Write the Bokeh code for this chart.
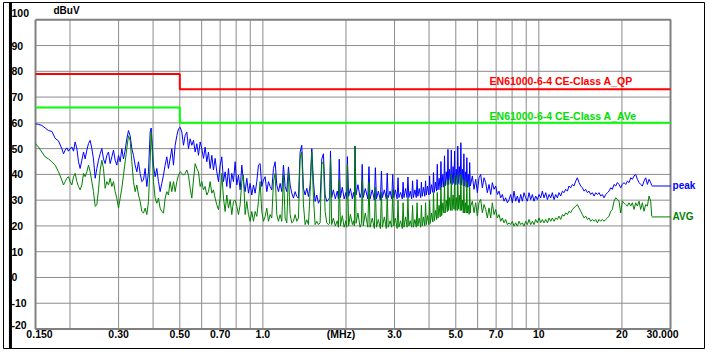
from bokeh.plotting import figure
from bokeh.models import Range1d, Label, Span
from bokeh.embed import file_html
from bokeh.resources import INLINE

# ---------------- data ----------------
# limit lines (MHz, dBuV)
qp_freq = [0.15, 0.5, 0.5, 30.0]
qp_level = [79, 79, 73, 73]
av_freq = [0.15, 0.5, 0.5, 30.0]
av_level = [66, 66, 60, 60]
qp_name = "EN61000-6-4 CE-Class A_QP"
av_name = "EN61000-6-4 CE-Class A_AVe"

# measured traces, band 0.15 - 0.52 MHz
freq_a = [0.150, 0.1538, 0.1581, 0.1626, 0.1672, 0.1719, 0.1767, 0.1817, 0.1868, 0.1895,
          0.1921, 0.1948, 0.1975, 0.2003, 0.2031, 0.2060, 0.2088, 0.2118, 0.2147, 0.2177,
          0.2208, 0.2239, 0.2270, 0.2302, 0.2334, 0.2367, 0.2400, 0.2433, 0.2468, 0.2502,
          0.2537, 0.2573, 0.2609, 0.2645, 0.2682, 0.2720, 0.2758, 0.2796, 0.2836, 0.2875,
          0.2916, 0.2956, 0.2998, 0.3040, 0.3082, 0.3125, 0.3169, 0.3213, 0.3258, 0.3304,
          0.3350, 0.3397, 0.3445, 0.3493, 0.3542, 0.3591, 0.3642, 0.3693, 0.3744, 0.3797,
          0.3850, 0.3904, 0.3936, 0.3969, 0.4013, 0.4070, 0.4127, 0.4184, 0.4243, 0.4302,
          0.4363, 0.4424, 0.4486, 0.4548, 0.4612, 0.4677, 0.4743, 0.4810, 0.4877, 0.4945,
          0.5015, 0.5085, 0.5156]
peak_a = [59.6, 59.4, 59.0, 58.0, 57.0, 56.7, 54.0, 53.0, 50.0, 48.0,
          49.4, 50.3, 49.0, 50.0, 50.6, 49.0, 52.6, 50.0, 44.9, 42.3,
          45.5, 48.7, 46.0, 49.4, 52.0, 53.2, 50.0, 46.0, 38.5, 42.3,
          45.5, 48.0, 50.0, 46.0, 44.2, 47.4, 48.7, 44.2, 46.8, 49.4,
          45.5, 43.6, 47.4, 44.9, 50.0, 46.0, 49.4, 53.8, 57.0, 55.0,
          50.0, 47.4, 43.6, 41.0, 44.9, 40.4, 37.2, 37.8, 42.3, 35.3,
          41.0, 56.4, 58.0, 52.6, 43.6, 39.1, 42.3, 37.2, 33.3, 36.5,
          39.7, 43.6, 46.8, 42.3, 46.0, 50.0, 43.6, 51.3, 55.0, 57.7,
          58.3, 56.4, 51.3]
avg_a = [51.9, 50.6, 48.7, 46.8, 46.0, 44.9, 43.6, 41.0, 37.8, 35.9,
         37.2, 38.5, 39.1, 37.2, 35.9, 39.1, 40.4, 37.2, 35.3, 34.0,
         35.9, 40.4, 39.1, 41.0, 43.6, 41.0, 37.2, 33.3, 27.6, 28.2,
         34.0, 41.7, 45.5, 42.3, 34.6, 37.2, 35.9, 38.5, 35.3, 37.2,
         33.3, 30.8, 26.9, 30.8, 34.6, 39.7, 44.9, 50.0, 55.0, 53.2,
         44.9, 37.2, 33.3, 35.9, 32.0, 29.5, 25.6, 25.0, 26.9, 24.4,
         29.5, 44.9, 56.4, 50.0, 37.2, 30.8, 28.8, 30.8, 26.9, 25.6,
         25.0, 30.8, 33.3, 32.0, 37.2, 33.3, 37.2, 33.3, 37.2, 39.7,
         41.0, 40.4, 39.7]

# band 0.52 - 1.73 MHz
freq_b = [0.5228, 0.5301, 0.5375, 0.5451, 0.5527, 0.5604, 0.5683, 0.5762, 0.5843, 0.5925,
          0.6008, 0.6092, 0.6177, 0.6263, 0.6351, 0.6440, 0.6530, 0.6621, 0.6714, 0.6808,
          0.6903, 0.7000, 0.7098, 0.7197, 0.7298, 0.7400, 0.7504, 0.7609, 0.7715, 0.7823,
          0.7933, 0.8044, 0.8157, 0.8271, 0.8387, 0.8504, 0.8623, 0.8744, 0.8866, 0.8990,
          0.9116, 0.9244, 0.9373, 0.9504, 0.9637, 0.9772, 0.9909, 1.0048, 1.0189, 1.0331,
          1.0476, 1.0623, 1.0771, 1.0922, 1.1075, 1.1230, 1.1387, 1.1547, 1.1708, 1.1872,
          1.2038, 1.2207, 1.2378, 1.2551, 1.2727, 1.2905, 1.3086, 1.3269, 1.3455, 1.3643,
          1.3834, 1.4028, 1.4224, 1.4423, 1.4625, 1.4830, 1.5038, 1.5248, 1.5462, 1.5678,
          1.5898, 1.6120, 1.6346, 1.6575, 1.6807, 1.7042, 1.7281]
peak_b = [55.1, 56.4, 50.0, 53.8, 51.3, 53.2, 48.7, 51.9, 47.4, 52.6,
          50.0, 46.2, 50.6, 44.9, 48.7, 42.3, 47.4, 41.7, 46.2, 41.0,
          37.2, 43.6, 46.8, 37.2, 41.0, 35.3, 42.3, 34.6, 40.4, 37.2,
          44.9, 35.9, 39.7, 34.0, 43.6, 37.2, 33.3, 38.5, 32.7, 36.5,
          32.0, 35.9, 32.7, 37.2, 43.6, 44.2, 35.3, 37.8, 39.1, 33.3,
          37.2, 35.3, 34.0, 42.3, 44.9, 35.9, 33.3, 36.5, 33.3, 43.6,
          35.3, 33.3, 42.9, 35.9, 32.7, 30.8, 33.3, 31.4, 30.8, 48.7,
          51.3, 34.6, 32.0, 34.6, 31.4, 35.9, 50.0, 37.2, 29.5, 32.0,
          28.8, 30.2, 46.0, 48.0, 32.0, 29.5, 30.2]
avg_b = [40.4, 41.7, 39.7, 34.6, 30.8, 37.8, 44.2, 42.3, 41.0, 35.3,
         37.2, 34.0, 35.3, 32.0, 33.3, 37.2, 32.7, 34.0, 30.8, 28.2,
         26.3, 30.8, 40.4, 30.8, 25.6, 32.0, 26.9, 30.2, 24.4, 29.5,
         30.0, 27.6, 24.4, 28.2, 37.2, 39.7, 24.4, 29.5, 24.4, 21.8,
         25.6, 21.8, 25.6, 23.7, 29.5, 37.2, 25.6, 21.8, 23.7, 26.9,
         21.8, 24.4, 23.1, 37.2, 40.4, 24.4, 21.8, 24.4, 21.8, 39.7,
         23.1, 21.2, 41.0, 24.4, 21.2, 21.8, 24.4, 21.8, 23.1, 46.2,
         48.7, 28.2, 20.5, 22.4, 20.5, 33.3, 48.7, 30.8, 20.5, 21.8,
         20.5, 21.2, 44.0, 45.0, 25.6, 21.2, 20.5]

# band 1.74 - 5.65 MHz (harmonic comb)
freq_c = [1.745, 1.758, 1.775, 1.80, 1.83, 1.86, 1.878, 1.891, 1.91, 1.94,
          1.97, 2.00, 2.012, 2.024, 2.045, 2.075, 2.11, 2.13, 2.145, 2.157,
          2.175, 2.21, 2.25, 2.275, 2.29, 2.31, 2.35, 2.40, 2.423, 2.445,
          2.49, 2.535, 2.556, 2.58, 2.62, 2.665, 2.689, 2.71, 2.755, 2.80,
          2.822, 2.845, 2.89, 2.93, 2.955, 2.98, 3.02, 3.065, 3.088, 3.11,
          3.155, 3.20, 3.221, 3.245, 3.29, 3.33, 3.354, 3.38, 3.42, 3.46,
          3.487, 3.51, 3.555, 3.595, 3.62, 3.645, 3.685, 3.73, 3.753, 3.78,
          3.82, 3.86, 3.886, 3.91, 3.95, 3.995, 4.019, 4.045, 4.085, 4.13,
          4.152, 4.18, 4.22, 4.26, 4.285, 4.31, 4.35, 4.39, 4.418, 4.445,
          4.49, 4.525, 4.551, 4.575, 4.62, 4.66, 4.684, 4.71, 4.75, 4.79,
          4.817, 4.845, 4.89, 4.925, 4.95, 4.975, 5.02, 5.06, 5.083, 5.11,
          5.15, 5.19, 5.216, 5.245, 5.285, 5.325, 5.349, 5.375, 5.42, 5.455,
          5.482, 5.51, 5.55, 5.59, 5.615, 5.645]
peak_c = [31.0, 49.1, 31.0, 34.0, 30.5, 33.5, 30.5, 45.9, 31.0, 35.0,
          30.5, 33.0, 30.5, 46.9, 31.5, 34.5, 30.5, 33.0, 31.0, 51.0,
          32.0, 36.0, 31.0, 33.0, 43.9, 31.0, 34.5, 30.5, 43.0, 30.5,
          34.0, 30.0, 42.6, 30.5, 33.5, 30.0, 41.3, 31.0, 34.0, 30.5,
          40.5, 31.0, 33.5, 30.5, 40.0, 31.0, 34.0, 30.5, 38.7, 31.0,
          33.0, 30.5, 37.0, 31.0, 34.5, 31.0, 39.0, 31.0, 33.5, 30.5,
          37.5, 31.0, 34.0, 31.0, 38.0, 31.5, 34.5, 31.0, 37.0, 31.5,
          35.0, 31.5, 37.5, 32.0, 35.5, 32.0, 39.4, 32.5, 36.0, 33.0,
          40.7, 33.0, 37.0, 33.5, 43.9, 34.0, 38.5, 34.0, 45.0, 35.0,
          40.0, 35.0, 47.2, 35.5, 41.0, 36.0, 49.7, 36.0, 42.0, 36.5,
          49.5, 36.0, 43.0, 36.5, 49.1, 36.0, 42.0, 36.0, 51.0, 36.5,
          43.0, 36.0, 52.3, 36.0, 42.0, 35.5, 48.0, 35.5, 41.0, 35.0,
          46.5, 35.0, 40.0, 35.0, 44.6, 35.5]
avg_c = [21.0, 46.5, 20.5, 23.0, 20.0, 22.0, 19.5, 38.0, 20.0, 24.0,
         19.5, 22.0, 19.5, 44.0, 20.0, 24.5, 20.5, 22.0, 20.0, 51.0,
         21.0, 25.0, 19.5, 21.0, 38.0, 20.0, 25.0, 19.5, 37.0, 19.5,
         23.0, 19.0, 35.0, 19.5, 22.5, 19.0, 33.0, 19.5, 23.5, 19.0,
         32.0, 19.5, 22.0, 19.5, 34.0, 20.0, 23.0, 19.0, 30.0, 19.5,
         22.0, 19.0, 29.0, 19.5, 23.5, 19.5, 31.0, 20.0, 22.0, 19.5,
         28.0, 19.5, 22.5, 19.5, 29.0, 20.0, 23.0, 19.5, 28.0, 20.0,
         23.5, 20.0, 29.0, 20.5, 24.0, 20.5, 30.0, 21.0, 25.0, 21.5,
         33.0, 22.0, 26.0, 22.5, 33.0, 23.0, 28.0, 23.5, 35.0, 24.0,
         29.0, 25.0, 37.0, 25.0, 30.0, 25.5, 38.0, 26.0, 31.0, 26.0,
         40.0, 26.0, 32.0, 26.5, 39.0, 26.0, 31.0, 26.0, 40.0, 26.5,
         32.0, 26.0, 40.0, 26.0, 30.0, 25.0, 38.0, 25.0, 29.0, 25.0,
         37.0, 25.0, 28.0, 24.5, 35.0, 25.0]

# band 5.66 - 25.6 MHz
freq_d = [5.662, 5.742, 5.822, 5.904, 5.986, 6.070, 6.155, 6.241, 6.329, 6.417,
          6.507, 6.598, 6.691, 6.784, 6.879, 6.976, 7.073, 7.172, 7.273, 7.375,
          7.478, 7.583, 7.689, 7.797, 7.906, 8.016, 8.129, 8.242, 8.358, 8.475,
          8.594, 8.714, 8.836, 8.960, 9.085, 9.212, 9.341, 9.472, 9.605, 9.739,
          9.876, 10.014, 10.154, 10.296, 10.44, 10.59, 10.74, 10.89, 11.04, 11.19,
          11.35, 11.51, 11.67, 11.83, 12.00, 12.17, 12.34, 12.51, 12.69, 12.86,
          13.04, 13.23, 13.41, 13.60, 13.79, 13.98, 14.18, 14.38, 14.58, 14.78,
          14.99, 15.20, 15.41, 15.63, 15.85, 16.07, 16.29, 16.52, 16.75, 16.99,
          17.22, 17.47, 17.71, 17.96, 18.21, 18.47, 18.72, 18.99, 19.25, 19.52,
          19.80, 20.07, 20.35, 20.64, 20.93, 21.22, 21.52, 21.82, 22.13, 22.44,
          22.75, 23.07, 23.39, 23.72, 24.05, 24.39, 24.73, 25.08, 25.43, 25.64]
peak_d = [36.1, 39.4, 34.2, 38.1, 32.9, 38.7, 40.0, 34.8, 38.7, 36.8,
          32.9, 36.1, 32.2, 36.8, 34.2, 35.5, 32.2, 33.5, 30.9, 32.2,
          29.6, 30.9, 29.0, 30.2, 32.2, 29.0, 33.5, 29.6, 31.6, 29.0,
          32.2, 29.6, 32.9, 30.9, 29.6, 32.9, 30.2, 32.2, 29.6, 31.6,
          30.2, 32.2, 30.9, 33.5, 30.9, 32.9, 30.2, 32.2, 30.9, 32.9,
          30.2, 32.2, 30.9, 32.9, 31.6, 33.5, 32.9, 34.2, 33.5, 35.5,
          34.8, 36.1, 35.5, 37.4, 38.7, 36.8, 35.5, 34.8, 33.5, 34.2,
          32.9, 33.5, 32.2, 32.9, 31.6, 32.9, 32.2, 32.9, 31.6, 32.2,
          30.9, 32.2, 32.9, 33.5, 34.8, 34.2, 36.1, 35.5, 36.8, 36.1,
          34.8, 36.1, 36.8, 36.1, 37.4, 36.8, 38.7, 38.1, 39.4, 40.0,
          38.1, 36.8, 36.1, 35.5, 37.4, 38.7, 36.1, 38.1, 36.8, 35.7]
avg_d = [27.7, 29.6, 25.1, 29.0, 23.8, 29.0, 30.3, 25.1, 28.3, 26.4,
         23.1, 27.0, 23.1, 29.0, 24.4, 26.4, 23.1, 24.4, 21.8, 23.1,
         21.2, 22.5, 20.5, 21.2, 20.5, 21.8, 19.9, 21.2, 19.9, 21.8,
         20.5, 21.2, 19.9, 21.8, 20.5, 22.5, 20.5, 21.8, 20.5, 22.5,
         21.2, 23.1, 21.2, 22.5, 21.2, 22.5, 21.2, 23.1, 21.8, 23.1,
         21.8, 23.1, 22.5, 23.8, 22.5, 24.4, 23.8, 25.1, 24.4, 25.7,
         25.1, 26.4, 27.0, 27.7, 28.3, 27.0, 25.7, 24.4, 23.1, 23.8,
         22.5, 23.1, 21.8, 22.5, 21.8, 22.5, 21.2, 22.5, 21.8, 22.5,
         21.8, 22.5, 23.1, 23.8, 25.7, 26.4, 29.6, 30.9, 30.3, 29.6,
         25.0, 29.6, 29.0, 28.3, 27.7, 29.0, 27.7, 29.0, 26.4, 29.0,
         27.7, 29.6, 26.4, 29.0, 25.7, 28.3, 27.7, 31.6, 29.6, 23.8]

peak_end_level = 35.5   # level held from the end of the sweep up to 30 MHz
avg_end_level = 23.5

freq_mhz = freq_a + freq_b + freq_c + freq_d
peak_dbuv = peak_a + peak_b + peak_c + peak_d
avg_dbuv = avg_a + avg_b + avg_c + avg_d
assert len(freq_mhz) == len(peak_dbuv) == len(avg_dbuv), (len(freq_mhz), len(peak_dbuv), len(avg_dbuv))

f_min, f_max = 0.15, 30.0
y_min, y_max = -20, 100
x_tick_vals = [0.15, 0.3, 0.5, 0.7, 1.0, 3.0, 5.0, 7.0, 10.0, 20.0, 30.0]
x_tick_text = ["0.150", "0.30", "0.50", "0.70", "1.0", "3.0", "5.0", "7.0", "10", "20", "30.000"]
x_grid_vals = [0.2, 0.3, 0.4, 0.5, 0.6, 0.7, 0.8, 0.9, 1, 2, 3, 4, 5, 6, 7, 8, 9, 10, 20]
y_tick_vals = [100, 90, 80, 70, 60, 50, 40, 30, 20, 10, 0, -10, -20]
y_grid_vals = [90, 80, 70, 60, 50, 40, 30, 20, 10, 0, -10]

# ---------------- styling ----------------
FONT = "Liberation Sans"
GRID = "#8c8c8c"

# The Bokeh frame is the outer box of the picture; the diagram area
# (0.15-30 MHz, -20..100 dBuV) sits inside it with room for the labels.
p = figure(width=708, height=352, x_axis_type="log",
           x_range=Range1d(0.11484, 39.83), y_range=Range1d(-27.57, 106.71),
           x_axis_location=None, y_axis_location=None,
           output_backend="svg", toolbar_location=None,
           min_border_left=3, min_border_right=4, min_border_top=2, min_border_bottom=4)
p.xgrid.visible = False
p.ygrid.visible = False
p.background_fill_color = "white"
p.border_fill_color = "white"
p.outline_line_color = "black"
p.outline_line_width = 1

# grid of the diagram area
p.segment(x0=x_grid_vals, y0=[y_min] * len(x_grid_vals), x1=x_grid_vals, y1=[y_max] * len(x_grid_vals),
          line_color=GRID, line_width=1)
p.segment(x0=[f_min] * len(y_grid_vals), y0=y_grid_vals, x1=[f_max] * len(y_grid_vals), y1=y_grid_vals,
          line_color=GRID, line_width=1)
# diagram border
p.line([f_min, f_max, f_max, f_min, f_min], [y_max, y_max, y_min, y_min, y_max],
       line_color="#808080", line_width=2)

# dark bar at the left edge of the window
p.add_layout(Span(location=0.1217, dimension="height", line_color="black", line_width=3))

# limits
p.line(qp_freq, qp_level, line_color="#ff0000", line_width=2)
p.line(av_freq, av_level, line_color="#00ff00", line_width=2)

# traces
p.line(freq_mhz, peak_dbuv, line_color="#0000ff", line_width=1)
p.line([freq_mhz[-1], f_max], [peak_end_level, peak_end_level], line_color="#0000ff", line_width=1)
p.line(freq_mhz, avg_dbuv, line_color="#008000", line_width=1)
p.line([freq_mhz[-1], f_max], [avg_end_level, avg_end_level], line_color="#008000", line_width=1)

def add_label(x, y, text, color="black", size="10.5px", align="left", baseline="middle", dx=0, dy=0):
    p.add_layout(Label(x=x, y=y, text=text, text_color=color, text_font=FONT,
                       text_font_style="bold", text_font_size=size,
                       text_align=align, text_baseline=baseline,
                       x_offset=dx, y_offset=dy))

# y tick labels (left aligned, like the original)
for v in y_tick_vals:
    dy = 6.5 if v == y_max else (4 if v == y_min else 0)
    add_label(f_min, v, str(v), dx=-24, dy=dy)

# x tick labels
x_shift = {"0.150": 4, "30.000": -8}
for v, t in zip(x_tick_vals, x_tick_text):
    add_label(v, y_min, t, align="center", dx=x_shift.get(t, 0), dy=-5)
add_label(2.0, y_min, "(MHz)", align="center", dx=-5, dy=-5)

# unit
add_label(f_min, y_max, "dBuV", dx=18, dy=9.5, size="10px")

# limit names
add_label(6.63, 73, qp_name, color="#ff0000", dy=8)
add_label(6.63, 60, av_name, color="#00e000", dy=7)

# trace names
add_label(f_max, peak_end_level, "peak", color="#0000ff", dx=2, size="10px")
add_label(f_max, avg_end_level, "AVG", color="#008000", dx=2, size="10px")

open("out.html", "w").write(file_html(p, INLINE))
